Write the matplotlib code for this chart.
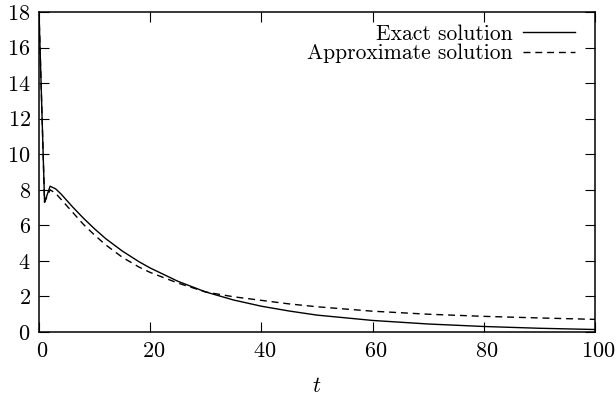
import matplotlib
matplotlib.use('Agg')
import matplotlib.pyplot as plt
from matplotlib.transforms import ScaledTranslation

plt.rcParams['font.family'] = 'cmr10'
plt.rcParams['mathtext.fontset'] = 'cm'
plt.rcParams['axes.formatter.use_mathtext'] = True

# values
t_exact = [0, 1, 2, 3, 4, 5, 6, 8, 10, 12, 15, 18, 20, 25, 30, 35, 40, 45, 50,
           60, 70, 80, 90, 100]
u_exact = [18.0, 7.3, 8.2, 8.05, 7.75, 7.4, 7.05, 6.4, 5.8, 5.25, 4.55, 3.95, 3.6,
           2.85, 2.25, 1.8, 1.45, 1.18, 0.95, 0.65, 0.45, 0.31, 0.21, 0.14]

t_approx = [0, 1, 2, 3, 4, 5, 6, 8, 10, 12, 15, 18, 20, 25, 30, 35, 40, 45, 50,
            60, 70, 80, 90, 100]
u_approx = [18.0, 7.3, 8.0, 7.8, 7.45, 7.1, 6.75, 6.05, 5.45, 4.9, 4.2, 3.65, 3.35,
            2.75, 2.25, 1.98, 1.78, 1.58, 1.42, 1.17, 1.0, 0.88, 0.79, 0.71]

fig = plt.figure(figsize=(6.16, 3.95), dpi=100)
ax = fig.add_axes([39/616, 63/395, 556/616, 320/395])

ax.plot(t_exact, u_exact, color='black', lw=1.0, label='Exact solution')
ax.plot(t_approx, u_approx, color='black', lw=1.0, dashes=(5, 3.5),
        label='Approximate solution')

ax.set_xlim(0, 100)
ax.set_ylim(0, 18)
ax.set_xticks(range(0, 101, 20))
ax.set_yticks(range(0, 19, 2))
ax.tick_params(direction='in', length=7.5, width=0.8, top=True, right=True,
               labelsize=16)
ax.tick_params(axis='x', pad=7)
ax.tick_params(axis='y', pad=6)
for s in ax.spines.values():
    s.set_linewidth(1.1)

# gnuplot puts x tick labels a little right of the tick
shift = ScaledTranslation(3/100, 0, fig.dpi_scale_trans)
for lab in ax.get_xticklabels():
    lab.set_transform(lab.get_transform() + shift)

ax.set_xlabel('$t$', fontsize=16, labelpad=11)

ax.legend(loc='upper right', bbox_to_anchor=(0.964, 0.962), frameon=False,
          markerfirst=False, fontsize=15.5, handlelength=2.4, handletextpad=0.5,
          borderaxespad=0, borderpad=0, labelspacing=0.0)

fig.savefig('out.png', dpi=100)
